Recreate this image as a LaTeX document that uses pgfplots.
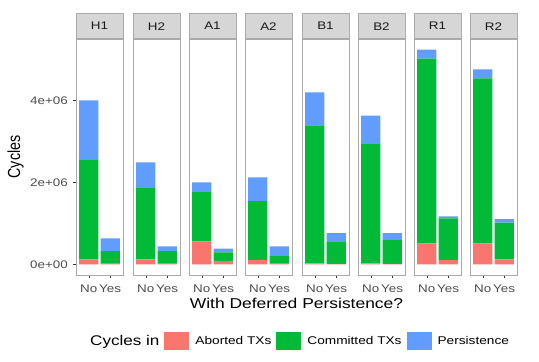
\documentclass[border=0pt]{standalone}
\usepackage{fontspec}
\setmainfont{Liberation Sans}[FakeStretch=1.22]
\newfontfamily\rotfont{Liberation Sans}
\usepackage{graphicx}
\usepackage{pgfplots}
\pgfplotsset{compat=1.18}
\usepackage{pgfplotstable}

\definecolor{cAb}{HTML}{F8766D}
\definecolor{cCo}{HTML}{00BA38}
\definecolor{cPe}{HTML}{619CFF}
\definecolor{bordergray}{RGB}{170,170,170}
\definecolor{stripgray}{RGB}{214,214,214}
\definecolor{tickgray}{RGB}{51,51,51}
\definecolor{labgray}{RGB}{77,77,77}
\definecolor{striptext}{RGB}{26,26,26}

% cycles in millions: aborted, committed, persistence
\pgfplotstableread{
x ab co pe
1 0.12 2.44 1.44
2 0.03 0.29 0.31
}\tHa
\pgfplotstableread{
x ab co pe
1 0.12 1.76 0.61
2 0.03 0.29 0.12
}\tHb
\pgfplotstableread{
x ab co pe
1 0.56 1.20 0.24
2 0.08 0.21 0.09
}\tAa
\pgfplotstableread{
x ab co pe
1 0.10 1.44 0.58
2 0.03 0.19 0.22
}\tAb
\pgfplotstableread{
x ab co pe
1 0.02 3.37 0.81
2 0.01 0.55 0.20
}\tBa
\pgfplotstableread{
x ab co pe
1 0.02 2.93 0.68
2 0.01 0.58 0.17
}\tBb
\pgfplotstableread{
x ab co pe
1 0.51 4.51 0.22
2 0.10 1.02 0.05
}\tRa
\pgfplotstableread{
x ab co pe
1 0.51 4.03 0.22
2 0.12 0.90 0.08
}\tRb

\pgfplotsset{
  panel/.style={
    scale only axis, width=47pt, height=236pt,
    anchor=south west,
    xmin=0.4, xmax=2.6, ymin=-0.262, ymax=5.502,
    ybar stacked, bar width=0.9,
    xtick={1,2}, xticklabels={No,Yes},
    xtick pos=bottom, ytick pos=left,
    ytick=\empty,
    tick align=outside, major tick length=3pt,
    tick style={draw=tickgray, line width=0.5pt},
    axis line style={draw=bordergray, line width=0.6pt},
    xticklabel style={font=\fontsize{11}{12}\selectfont, text=labgray, inner sep=2pt, yshift=-5pt},
    every axis title shift=0pt,
    every axis title/.style={at={(0.5,1)}, anchor=south, fill=stripgray,
      draw=bordergray, line width=0.6pt, minimum width=47pt, minimum height=25pt,
      inner sep=0pt, text=striptext, font=\fontsize{11}{12}\selectfont},
  },
  sq/.style={legend image code/.code={\fill[##1] (0pt,-9pt) rectangle (25pt,9pt);}},
}

\newcommand{\bars}[1]{%
  \addplot[fill=cAb, draw=none, sq] table[x=x,y=ab]{#1};
  \addplot[fill=cCo, draw=none, sq] table[x=x,y=co]{#1};
  \addplot[fill=cPe, draw=none, sq] table[x=x,y=pe]{#1};
}

\begin{document}
\begin{tikzpicture}
\path[use as bounding box, fill=white] (-76pt,-87pt) rectangle (463pt,275pt);

\begin{axis}[panel, at={(0pt,0pt)}, title=H1,
    ytick={0,2,4}, yticklabels={0e+00,2e+06,4e+06},
    yticklabel style={font=\fontsize{11}{12}\selectfont, text=labgray, inner sep=2pt, xshift=-3pt},
    ylabel={\scalebox{1}[1.22]{\rotfont\fontsize{14.3}{16}\selectfont Cycles}},
    ylabel style={at={(axis description cs:-1.287,0.5)}, anchor=center},
    xlabel={\fontsize{14.3}{16}\selectfont With Deferred Persistence?},
    xlabel style={at={(axis description cs:4.691,-0.12)}, anchor=center},
    legend columns=-1,
    legend style={at={(axis description cs:0.17,-0.2797)}, anchor=west,
      draw=none, fill=none, inner sep=0pt, column sep=0pt,
      font=\fontsize{11.2}{13}\selectfont, cells={anchor=west},
      /tikz/every odd column/.append style={column sep=4pt},
      /tikz/every even column/.append style={column sep=3pt}},
  ]
  \addlegendimage{empty legend}
  \bars{\tHa}
  \legend{{\fontsize{14}{16}\selectfont Cycles in\hspace{4pt}}, Aborted TXs, Committed TXs, Persistence}
\end{axis}

\begin{axis}[panel, at={(57pt,0pt)}, title=H2]
  \bars{\tHb}
\end{axis}
\begin{axis}[panel, at={(113pt,0pt)}, title=A1]
  \bars{\tAa}
\end{axis}
\begin{axis}[panel, at={(169pt,0pt)}, title=A2]
  \bars{\tAb}
\end{axis}
\begin{axis}[panel, at={(226pt,0pt)}, title=B1]
  \bars{\tBa}
\end{axis}
\begin{axis}[panel, at={(282pt,0pt)}, title=B2]
  \bars{\tBb}
\end{axis}
\begin{axis}[panel, at={(338pt,0pt)}, title=R1]
  \bars{\tRa}
\end{axis}
\begin{axis}[panel, at={(394pt,0pt)}, title=R2]
  \bars{\tRb}
\end{axis}
\end{tikzpicture}
\end{document}
